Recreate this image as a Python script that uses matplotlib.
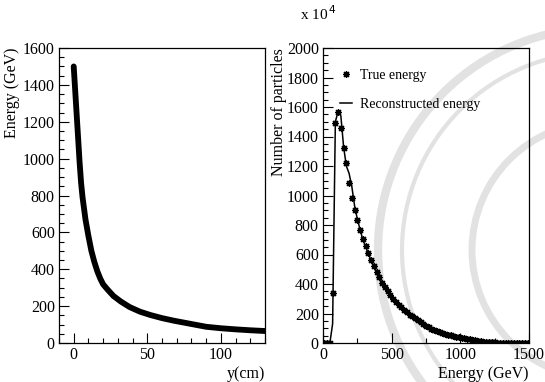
import matplotlib.pyplot as plt
import numpy as np
from matplotlib.patches import Arc
from matplotlib.ticker import MultipleLocator

plt.rcParams['font.family'] = ['Liberation Serif', 'DejaVu Serif']
plt.rcParams['font.size'] = 11.5
plt.rcParams['xtick.direction'] = 'in'
plt.rcParams['ytick.direction'] = 'in'

# left panel: energy vs depth
pos_y = [0, 1, 2, 3, 4, 5, 6, 7, 8, 10, 12, 14, 16, 18, 20, 23, 27, 32, 38, 45,
         52, 60, 68, 80, 90, 100, 110, 120, 130]
energy = [1500, 1370, 1240, 1110, 980, 870, 790, 730, 670, 580, 500, 440, 390, 350,
          318, 290, 255, 225, 195, 170, 152, 135, 121, 103, 88, 80, 74, 69, 65]

# right panel: histogram, bin centres every 20 GeV
bin_centres = list(range(10, 1500, 20))
true_counts = [0, 0, 0, 340, 1490, 1563, 1460, 1320, 1220, 1087, 985, 905, 835, 765,
               705, 660, 612, 565, 520, 480, 445, 410, 380, 352, 325, 300, 280, 260,
               242, 225, 208, 193, 180, 167, 155, 140, 128, 116, 106, 97, 89, 81, 74,
               67, 61, 56, 51, 46, 42, 38, 34, 31, 27, 24, 21, 18, 15, 12, 10, 8, 6,
               5, 4, 3, 2, 1, 1, 0, 0, 0, 0, 0, 0, 0, 0]
reco_counts = [0, 0, 0, 130, 1500, 1570, 1540, 1330, 1200, 1150, 1060, 930, 840, 770,
               700, 655, 605, 560, 520, 478, 440, 410, 378, 350, 325, 300, 278, 258,
               240, 224, 208, 193, 179, 166, 154, 140, 128, 116, 106, 97, 88, 81, 74,
               67, 61, 56, 51, 46, 42, 38, 34, 30, 27, 24, 21, 18, 15, 12, 10, 8, 6,
               5, 4, 3, 2, 1, 1, 0, 0, 0, 0, 0, 0, 0, 0]

fig = plt.figure(figsize=(5.45, 3.82), dpi=100)

# faint seal watermark behind the right panel
bg = fig.add_axes([0, 0, 1, 1], zorder=0)
bg.set_xlim(0, 545)
bg.set_ylim(382, 0)
bg.axis('off')
for r, w in [(222, 6), (198, 3), (128, 5)]:
    bg.add_patch(Arc((600, 250), 2 * r, 2 * r, theta1=90, theta2=270,
                     color='#e2e2e2', lw=w))

ax1 = fig.add_axes([59 / 545, 39 / 382, 206 / 545, 295 / 382], zorder=1)
ax1.plot(pos_y, energy, color='black', lw=4.2, solid_capstyle='round')
ax1.set_xlim(-10, 130)
ax1.set_ylim(0, 1600)
ax1.xaxis.set_major_locator(MultipleLocator(50))
ax1.xaxis.set_minor_locator(MultipleLocator(10))
ax1.yaxis.set_major_locator(MultipleLocator(200))
ax1.yaxis.set_minor_locator(MultipleLocator(50))
ax1.set_xlabel('y(cm)', loc='right', labelpad=2)
ax1.set_ylabel('Energy (GeV)', loc='top', labelpad=2)

ax2 = fig.add_axes([323 / 545, 39 / 382, 206 / 545, 295 / 382], zorder=1)
ax2.set_facecolor('none')
ax2.plot(bin_centres, reco_counts, color='black', lw=1.1, label='Reconstructed energy')
ax2.plot(bin_centres, true_counts, ls='none', marker=(8, 2, 0), ms=5, mew=0.9,
         color='black', label='True energy')
ax2.set_xlim(0, 1500)
ax2.set_ylim(0, 2000)
ax2.xaxis.set_major_locator(MultipleLocator(500))
ax2.xaxis.set_minor_locator(MultipleLocator(250))
ax2.yaxis.set_major_locator(MultipleLocator(200))
ax2.yaxis.set_minor_locator(MultipleLocator(50))
ax2.set_xlabel('Energy (GeV)', loc='right', labelpad=2)
ax2.set_ylabel('Number of particles', loc='top', labelpad=0)
handles, labels = ax2.get_legend_handles_labels()
ax2.legend(handles[::-1], labels[::-1], loc='upper left', bbox_to_anchor=(0.02, 0.97),
           frameon=False, fontsize=10, handlelength=0.9, handletextpad=0.6,
           labelspacing=1.1)
fig.text(300 / 545, 1 - 14 / 382, r'x 10$^{\,4}$', fontsize=11, va='center')

for ax in (ax1, ax2):
    ax.tick_params(which='major', length=7, width=0.8, pad=3)
    ax.tick_params(which='minor', length=3.5, width=0.8)
    for s in ax.spines.values():
        s.set_linewidth(0.9)

plt.savefig('out.png', dpi=100)
